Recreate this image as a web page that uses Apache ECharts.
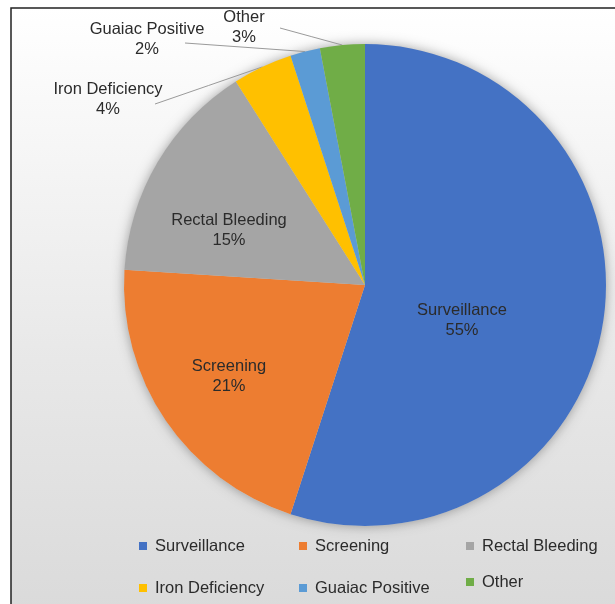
<!DOCTYPE html>
<html>
<head>
<meta charset="utf-8">
<script src="https://cdn.jsdelivr.net/npm/echarts@6/dist/echarts.min.js"></script>
<style>
html,body{margin:0;padding:0;background:#fff;}
#c{width:615px;height:604px;}
</style>
</head>
<body>
<div id="c"></div>
<script>
const categories = ['Surveillance', 'Screening', 'Rectal Bleeding', 'Iron Deficiency', 'Guaiac Positive', 'Other'];
const percents = [55, 21, 15, 4, 2, 3];
const colors = ['#4472C4', '#ED7D31', '#A5A5A5', '#FFC000', '#5B9BD5', '#70AD47'];
const outsideLabels = ['Iron Deficiency', 'Guaiac Positive', 'Other'];
// legend columns (as laid out in the reference)
const legendColumns = [
  ['Surveillance', 'Iron Deficiency'],
  ['Screening', 'Guaiac Positive'],
  ['Rectal Bleeding', 'Other']
];

// label placement (label centres) and leader-line ends
const labelSpots = [[462, 320], [229, 376], [229, 230], [108, 99], [147, 39], [244, 27]];
const lineEnds = {3: [155, 104], 4: [185, 43], 5: [280, 28]};
const legendLefts = [139, 299, 466];
const legendGaps = [22, 22, 16];

const chart = echarts.init(document.getElementById('c'));

const font = 'Liberation Sans, Arial, sans-serif';
const textColor = '#2b2b2b';

const pieData = categories.map(function (name, i) {
  const outside = outsideLabels.indexOf(name) >= 0;
  return {
    name: name,
    value: percents[i],
    itemStyle: {color: colors[i]},
    label: {position: outside ? 'outside' : 'inside'},
    labelLine: {show: outside}
  };
});

const legends = legendColumns.map(function (col, k) {
  return {
    data: col,
    orient: 'vertical',
    left: legendLefts[k],
    top: 536,
    padding: 0,
    icon: 'rect',
    itemWidth: 8,
    itemHeight: 8,
    itemGap: legendGaps[k],
    selectedMode: false,
    textStyle: {fontSize: 16.5, fontFamily: font, color: textColor, lineHeight: 20, padding: [0, 0, 0, 3]}
  };
});

chart.setOption({
  animation: false,
  graphic: [{
    type: 'rect',
    z: -10,
    shape: {x: 11, y: 8, width: 640, height: 640},
    style: {
      fill: new echarts.graphic.LinearGradient(0, 0, 0, 1, [
        {offset: 0, color: '#ffffff'},
        {offset: 0.55, color: '#e8e8e8'},
        {offset: 1, color: '#d8d8d8'}
      ]),
      stroke: '#222222',
      lineWidth: 1.5
    }
  }],
  legend: legends,
  series: [
    {
      // shadow disc behind the pie
      type: 'pie',
      silent: true,
      center: [365, 285],
      radius: 241,
      z: 1,
      label: {show: false},
      labelLine: {show: false},
      itemStyle: {color: '#cccccc', shadowBlur: 12, shadowColor: 'rgba(0,0,0,0.35)'},
      data: [{name: '_shadow', value: 1}]
    },
    {
      type: 'pie',
      center: [365, 285],
      radius: 241,
      startAngle: 90,
      clockwise: true,
      z: 2,
      emphasis: {scale: false},
      label: {
        show: true,
        formatter: '{b}\n{c}%',
        fontSize: 16.5,
        fontFamily: font,
        color: textColor,
        lineHeight: 20,
        align: 'center'
      },
      labelLine: {lineStyle: {color: '#9a9a9a', width: 1}, length: 20, length2: 20, smooth: false},
      labelLayout: function (p) {
        const i = p.dataIndex;
        const s = labelSpots[i];
        const r = {x: s[0], y: s[1], align: 'center', verticalAlign: 'middle'};
        if (lineEnds[i] && p.labelLinePoints) {
          const a = p.labelLinePoints[0];
          const e = lineEnds[i];
          r.labelLinePoints = [[a[0], a[1]], [(a[0] + e[0]) / 2, (a[1] + e[1]) / 2], [e[0], e[1]]];
        }
        return r;
      },
      data: pieData
    }
  ]
});
</script>
</body>
</html>
